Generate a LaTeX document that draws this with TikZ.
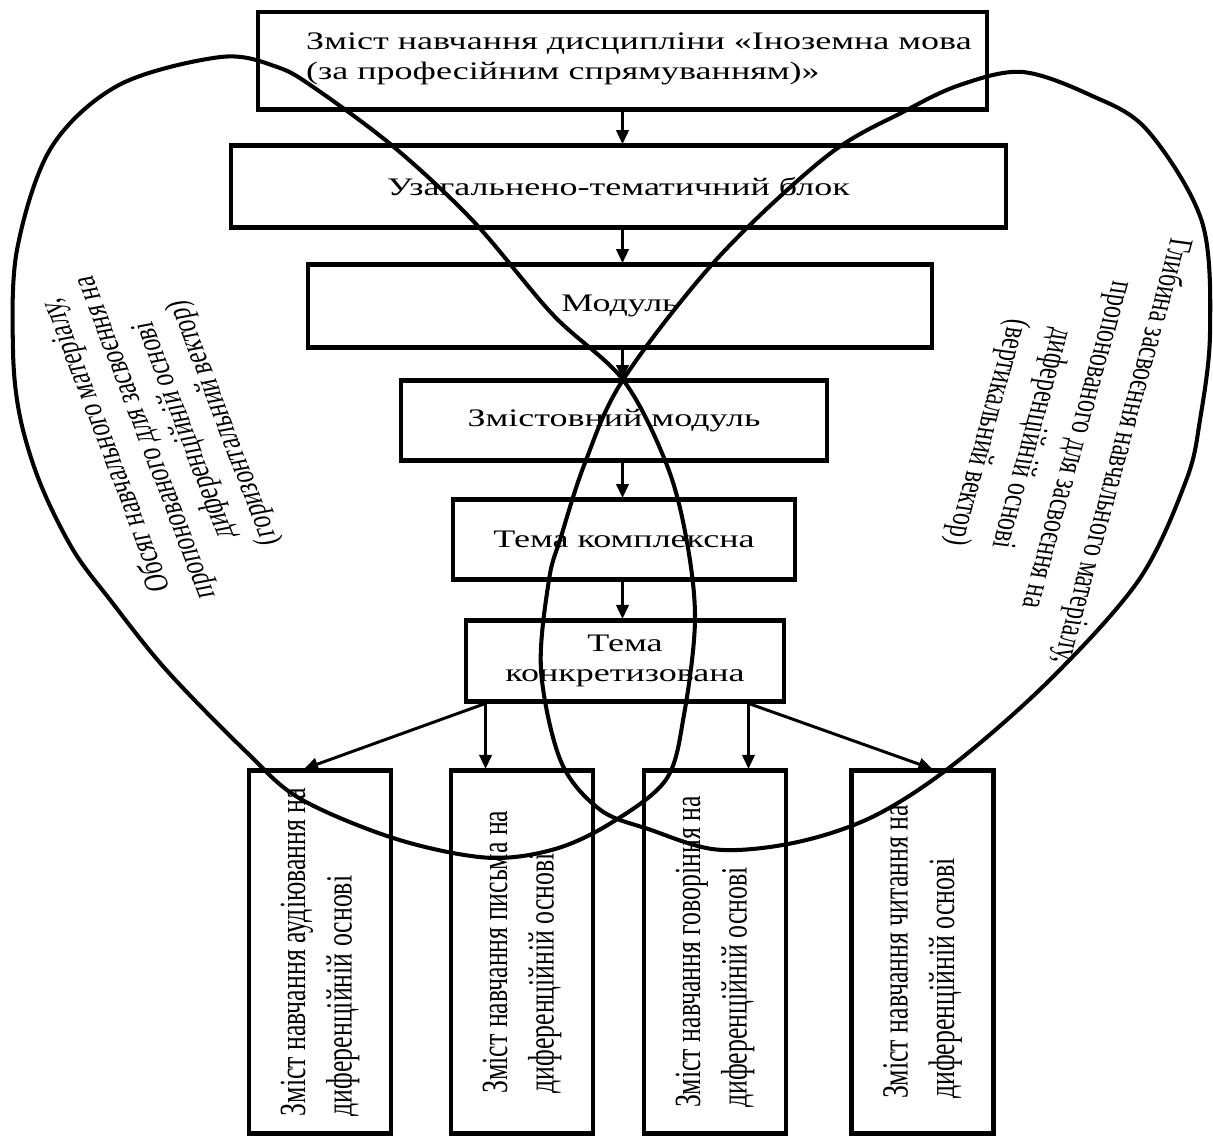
\documentclass[tikz,border=0pt]{standalone}
\usepackage{fontspec}
\setmainfont{Liberation Serif}
\usepackage{tikz}
\usetikzlibrary{arrows.meta,calc}

\tikzset{
    blk/.style={draw, line width=2.8pt, inner sep=0pt},
    bw/.style={minimum width=#1*0.02cm},
    bh/.style={minimum height=#1*0.0285714cm},
    txt/.style={align=center, font=\fontsize{20.5}{24.5}\selectfont},
    vtxt/.style={align=left, rotate=90, font=\fontsize{21}{26.5}\selectfont},
    side/.style={align=center, font=\fontsize{19.5}{23}\selectfont},
    arr/.style={line width=1.7pt, -{Triangle[length=8pt,width=7pt]}},
    loopline/.style={line width=2.3pt}
}

\begin{document}
\begin{tikzpicture}[x=0.02cm, y=-0.0285714cm, yscale=0.7, transform shape]
    \useasboundingbox (0,0) rectangle (1213,1136);

    % Main column
    \node[blk, bw=729, bh=98] (top) at (622.5,61) {};
    \node[txt, align=left, anchor=north west] (toptext) at (300,28)
        {Зміст навчання дисципліни «Іноземна мова\\(за професійним спрямуванням)»};
    \node[blk, bw=775, bh=82, txt] (block) at (618.5,187) {Узагальнено-тематичний блок};
    \node[blk, bw=624, bh=83, txt] (module) at (620,306.5) {Модуль};
    \node[blk, bw=426, bh=80, txt] (cmodule) at (614,421) {Змістовний модуль};
    \node[blk, bw=342, bh=80, txt] (tcomplex) at (624,540) {Тема комплексна};
    \node[blk, bw=318, bh=81, txt] (tconcrete) at (625,661.5) {Тема\\конкретизована};

    \draw[arr] (top.south) -- (top.south |- block.north);
    \draw[arr] (top.south |- block.south) -- (top.south |- module.north);
    \draw[arr] (top.south |- module.south) -- (top.south |- cmodule.north);
    \draw[arr] (top.south |- cmodule.south) -- (top.south |- tcomplex.north);
    \draw[arr] (top.south |- tcomplex.south) -- (top.south |- tconcrete.north);

    % Four skills
    \node[blk, bw=142, bh=363] (aud) at (320,952.5) {};
    \node[blk, bw=142, bh=363] (writ) at (522,952.5) {};
    \node[blk, bw=142, bh=363] (speak) at (715,952.5) {};
    \node[blk, bw=142, bh=363] (read) at (922.5,952.5) {};
    \node[vtxt] at (aud) {Зміст навчання аудіювання на\\диференційній основі};
    \node[vtxt] at (writ) {Зміст навчання письма на\\диференційній основі};
    \node[vtxt] at (speak) {Зміст навчання говоріння на\\диференційній основі};
    \node[vtxt] at (read) {Зміст навчання читання на\\диференційній основі};

    \coordinate (sl) at ([shift={(22,0)}]tconcrete.south west);
    \coordinate (sr) at ([shift={(-38,0)}]tconcrete.south east);
    \draw[arr] (sl) -- ($(aud.north)+(-16,0)$);
    \draw[arr] (sl) -- (sl |- writ.north);
    \draw[arr] (sr) -- (sr |- speak.north);
    \draw[arr] (sr) -- ($(read.north)+(10,0)$);

    % Side captions
    \node[side, rotate=105] (hvec) at (165,434)
        {Обсяг навчального матеріалу,\\пропонованого для засвоєння на\\диференційній основі\\(горизонтальний вектор)};
    \node[side, rotate=-101, font=\fontsize{19.5}{26}\selectfont] (vvec) at (1054,442)
        {Глибина засвоєння навчального матеріалу,\\пропонованого для засвоєння на\\диференційній основі\\(вертикальний вектор)};

    % Two loops
    \draw[loopline] plot[smooth cycle, tension=0.55] coordinates {
        (221,57) (277,67) (316,89) (395,148) (474,222) (553,315) (623,380)
        (666,463) (686,537) (695,620) (684,715) (666,780) (610,824)
        (553,850) (486,858) (395,839) (300,799) (245,751) (166,670)
        (110,600) (73,550) (40,483) (20,417) (13,350) (17,250) (51,148)
        (119,85)};
    \draw[loopline] plot[smooth cycle, tension=0.55] coordinates {
        (1022,72) (1090,95) (1147,130) (1202,222) (1210,333) (1200,420)
        (1186,481) (1139,580) (1049,681) (952,766) (873,817) (795,843)
        (717,850) (650,830) (600,810) (561,762) (541,670) (549,580)
        (561,537) (585,463) (623,380) (717,259) (827,156) (905,111)
        (960,85)};
\end{tikzpicture}
\end{document}
